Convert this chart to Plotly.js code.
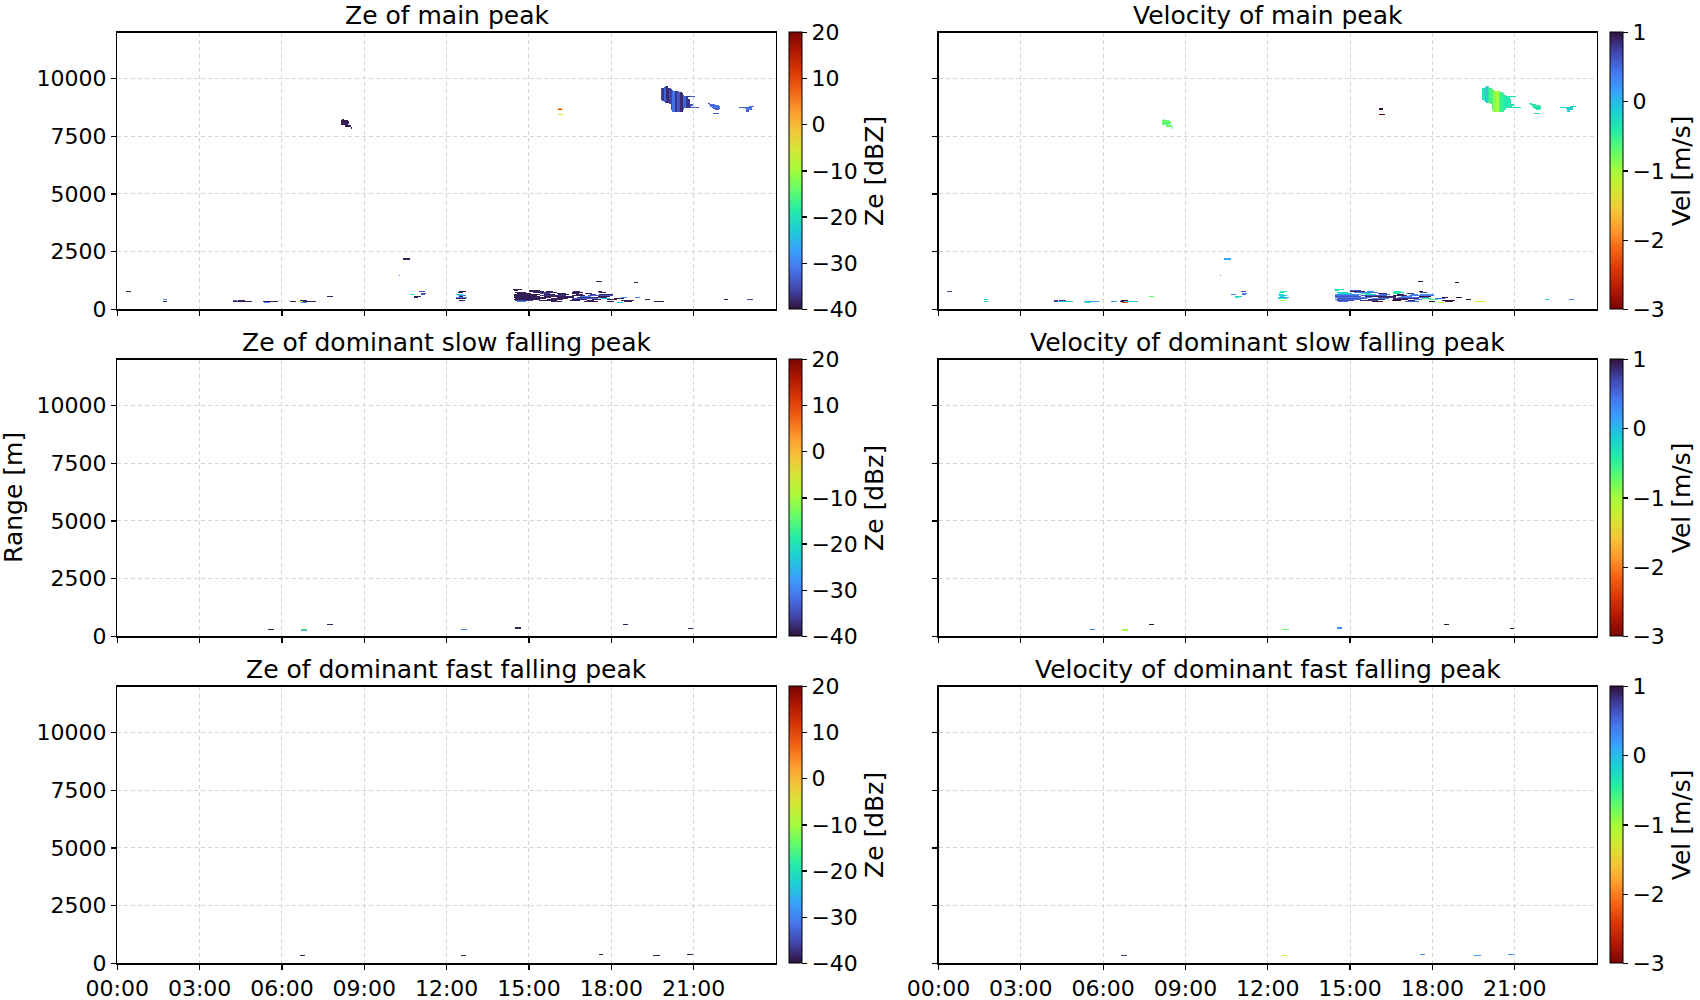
<!DOCTYPE html>
<html><head><meta charset="utf-8">
<script src="https://cdn.plot.ly/plotly-3.0.1.min.js"></script>
<style>html,body{margin:0;padding:0;background:#fff}#chart{width:1700px;height:1000px}</style>
</head><body><div id="chart"></div>
<script>
// ---------- tick labels ----------
const hourTicks = [0, 3, 6, 9, 12, 15, 18, 21];
const hourTickText = ['00:00', '03:00', '06:00', '09:00', '12:00', '15:00', '18:00', '21:00'];
const rangeTicks = [0, 2500, 5000, 7500, 10000];
const zeTicks = [-40, -30, -20, -10, 0, 10, 20];
const velTicks = [-3, -2, -1, 0, 1];

const panelTitles = ['Ze of main peak', 'Velocity of main peak',
  'Ze of dominant slow falling peak', 'Velocity of dominant slow falling peak',
  'Ze of dominant fast falling peak', 'Velocity of dominant fast falling peak'];
const zeLabels = ['Ze [dBZ]', 'Ze [dBz]', 'Ze [dBz]'];
const velLabel = 'Vel [m/s]';

// ---------- data: [start hour, end hour, range m, Ze dBZ, Vel m/s] ----------
const lowEchoes = [
  [0.32,0.50,765,-39,0.7],
  [1.64,1.81,405,-30,-0.1],[1.64,1.81,315,-39,-0.1],
  [4.18,4.35,360,-33,0.8],[4.41,4.66,360,-39,0.8],
  [4.18,4.35,315,-39,0.7],[4.35,4.91,315,-39,-0.1],
  [5.31,5.85,315,-39,0.1],[5.35,5.57,270,-30,-0.3],
  [6.30,6.48,315,-39,0.2],
  [6.62,6.74,315,-10,1.0],[6.66,6.90,360,-39,1.0],
  [6.72,6.90,270,-30,-2.3],[6.74,7.27,315,-39,-0.1],
  [7.65,7.83,540,-39,-0.7],
  [10.42,10.64,2160,-39,0.1],[10.42,10.64,2205,-39,0.1],
  [10.23,10.27,1440,-28,0.2],
  [10.64,10.83,630,-18,0.4],
  [10.78,11.03,540,-39,-0.2],[10.78,10.95,495,-39,-0.3],
  [11.00,11.20,765,-35,0.7],[11.05,11.25,675,-34,0.4],[11.05,11.22,630,-34,0.4]
];
const noonEchoes = [
  [12.45,12.72,765,-39,-0.4],[12.40,12.62,720,-39,-0.3],
  [12.35,12.60,630,-23,-0.3],[12.40,12.70,585,-30,-0.1],
  [12.45,12.62,540,-39,-0.3],[12.35,12.75,495,-30,0.1],
  [12.35,12.70,450,-39,-0.3],[12.45,12.65,360,-39,-1.1]
];
const afternoonEchoes = [
  [14.42,14.74,855,-39,-0.4],
  [14.45,14.62,810,-39,-0.4],[14.98,15.40,810,-39,0.6],
  [14.98,15.56,765,-39,0.9],[15.62,15.87,765,-39,0.3],[16.60,16.85,765,-39,-0.3],[17.50,17.67,765,-39,1.0],
  [14.50,14.92,720,-39,-0.3],[15.16,16.00,720,-38,0.4],[16.55,16.97,720,-39,-0.4],[17.55,17.80,720,-39,0.7],
  [14.55,15.04,675,-39,-0.2],[15.40,15.77,675,-36,-0.4],[16.00,16.36,675,-39,0.9],[16.55,16.78,675,-39,-0.4],[17.07,17.30,675,-39,0.8],
  [14.45,15.40,630,-39,0.2],[15.56,15.93,630,-39,-0.3],[16.05,16.43,630,-39,0.4],[16.72,16.97,630,-39,0.9],[17.20,17.45,630,-36,0.3],[17.55,18.05,630,-39,0.2],
  [14.45,15.30,585,-39,0.5],[15.40,16.36,585,-37,0.6],[16.55,17.03,585,-39,0.9],[17.15,18.05,585,-34,0.4],
  [14.47,15.41,540,-39,0.6],[15.53,16.63,540,-39,0.9],[16.87,17.23,540,-30,0.3],[17.48,17.96,540,-39,1.0],
  [14.45,15.78,495,-39,0.4],[16.02,16.63,495,-39,0.8],[16.75,17.84,495,-38,0.5],[18.33,18.57,495,-30,1.0],[18.85,19.06,495,-31,1.0],
  [14.50,15.59,450,-39,0.6],[15.78,16.38,450,-39,0.3],[16.56,17.48,450,-33,0.8],[17.60,17.96,450,-25,-0.5],[18.08,18.45,450,-39,0.5],
  [14.45,15.41,405,-39,0.5],[15.65,16.26,405,-39,0.9],[16.56,17.11,405,-39,1.0],[17.29,17.60,405,-39,0.4],[17.84,18.20,405,-39,-0.6],[19.21,19.42,405,-39,1.0],
  [14.50,15.17,360,-36,0.7],[15.35,16.02,360,-39,0.8],[16.50,16.87,360,-39,1.0],[17.11,17.35,360,-39,0.9],[18.33,18.81,360,-39,1.0],
  [14.56,14.92,315,-30,0.4],[15.78,16.20,315,-39,1.0],[16.99,17.48,315,-39,0.6],[17.84,18.08,315,-39,1.0],[18.45,18.75,315,-39,1.0],[19.55,19.88,315,-39,-1.3],
  [18.18,18.39,270,-24,-1.0],
  [17.45,17.64,1215,-39,1.0],[18.78,18.94,1170,-39,1.0],
  [22.10,22.26,405,-39,-0.1],[22.95,23.17,405,-35,0.3]
];
const upperEchoes = [
  [8.19,8.24,8235,-39,-0.6],[8.15,8.38,8190,-39,-0.7],[8.15,8.46,8145,-39,-0.8],
  [8.15,8.46,8100,-39,-0.7],[8.17,8.44,8055,-39,-0.6],[8.17,8.40,8010,-39,-0.7],
  [8.30,8.50,7965,-39,-0.8],[8.32,8.48,7920,-39,-0.7],[8.48,8.55,7875,-39,-0.6],[8.50,8.55,7830,-39,-0.7],
  [16.03,16.21,8685,3,1.2],[16.03,16.21,8640,8,1.2],[16.06,16.24,8460,-8,-3.0],
  [21.51,21.58,8910,-34,-0.4],[21.53,21.75,8865,-32,-0.4],[21.58,21.90,8820,-33,-0.5],
  [21.62,21.95,8775,-31,-0.4],[21.65,21.97,8730,-32,-0.3],[21.70,21.95,8685,-33,-0.4],
  [21.75,21.90,8640,-34,-0.4],[21.72,21.88,8505,-34,-0.3],
  [22.98,23.21,8775,-32,-0.2],[22.66,23.10,8730,-33,-0.2],[22.85,23.12,8685,-30,-0.1],
  [22.88,23.08,8640,-32,-0.2],[22.92,23.02,8595,-34,-0.2]
];
// evening cloud near 9 km: row extents [start hour, end hour, range m]
const cloudRows = [
  [19.94,20.03,9675],[19.92,20.05,9630],[19.78,20.17,9585],[19.78,20.20,9540],
  [19.78,20.25,9495],[19.78,20.45,9450],[19.78,20.55,9405],[19.78,20.60,9360],
  [19.80,20.62,9315],[19.80,20.65,9270],[19.80,21.06,9225],[19.80,20.80,9180],
  [19.82,20.82,9135],[19.82,20.84,9090],[19.85,20.84,9045],[19.90,20.84,9000],
  [19.95,20.84,8955],[20.12,20.84,8910],[20.14,20.95,8865],[20.14,20.95,8820],
  [20.15,20.90,8775],[20.15,21.18,8730],[20.15,20.65,8685],[20.17,20.64,8640],[20.20,20.60,8595]
];
// cloud column structure: boundaries (hours) and per-column values
const cloudColT = [19.7, 19.84, 19.92, 20.02, 20.10, 20.20, 20.28, 20.40, 20.50, 20.62, 20.72, 20.84, 21.3];
const cloudColZe = [-35, -37, -33, -38, -36, -32, -37, -34, -38, -33, -37, -34];
const cloudColVel = [-0.4, -0.3, -0.2, -0.5, -0.6, -0.9, -1.0, -0.6, -0.5, -0.4, -0.4, -0.3];

const slowEchoes = [
  [5.51,5.72,270,-39,0.3],
  [6.70,6.92,270,-15,-1.0],[6.70,6.92,225,-28,-1.0],
  [7.65,7.84,495,-39,1.2],
  [12.52,12.73,270,-30,-0.7],
  [14.50,14.69,360,-39,0.3],[14.50,14.69,315,-39,0.3],
  [18.38,18.60,495,-39,1.2],
  [20.78,20.97,315,-39,1.2]
];
const fastEchoes = [
  [6.64,6.84,315,-39,0.8],
  [12.52,12.70,315,-39,-1.2],
  [17.55,17.72,360,-39,0.2],
  [19.52,19.73,315,-39,0.2],
  [20.76,20.93,360,-39,0.2]
];

// ---------- colours ----------
const turbo = ['#30123b','#4145ab','#4675ed','#39a2fc','#1bcfd4','#24eca6','#61fc6c','#a4fc3b',
  '#d1e834','#f3c63a','#fe9b2d','#f36315','#d93806','#b11901','#7a0402'];
const turboScale = turbo.map((c, i) => [i / (turbo.length - 1), c]);
const turboRScale = turbo.slice().reverse().map((c, i) => [i / (turbo.length - 1), c]);

// ---------- grid ----------
const DT = 0.05, DR = 45, NT = 480, NR = 267;
const xCenters = Array.from({length: NT}, (_, i) => (i + 0.5) * DT);
const yCenters = Array.from({length: NR}, (_, j) => j * DR);

function cloudSegments() {
  const out = [];
  cloudRows.forEach(r => {
    for (let c = 0; c < cloudColZe.length; c++) {
      const a = Math.max(r[0], cloudColT[c]), b = Math.min(r[1], cloudColT[c + 1]);
      if (b > a) out.push([a, b, r[2], cloudColZe[c], cloudColVel[c]]);
    }
  });
  return out;
}
function buildGrid(segs, k) {
  const z = Array.from({length: NR}, () => new Array(NT).fill(null));
  segs.forEach(s => {
    const j = Math.round(s[2] / DR);
    let i0 = Math.round(s[0] / DT), i1 = Math.round(s[1] / DT);
    if (i1 <= i0) i1 = i0 + 1;
    for (let i = i0; i < i1 && i < NT; i++) z[j][i] = s[k];
  });
  return z;
}
const mainSegs = [].concat(lowEchoes, noonEchoes, afternoonEchoes, upperEchoes, cloudSegments());
const products = [mainSegs, slowEchoes, fastEchoes];

// ---------- layout geometry ----------
const W = 1700, H = 1000;
const colX = [[117.3 / W, 776 / W], [938.5 / W, 1597 / W]];
const rowTop = [32.5, 359.5, 686.5], rowH = 276.8;
const rowY = rowTop.map(t => [1 - (t + rowH) / H, 1 - t / H]);
const cbX = [789 / W, 1610 / W];

const FONT = 'DejaVu Sans';
const traces = [];
const layout = {
  width: W, height: H, margin: {l: 0, r: 0, t: 0, b: 0},
  paper_bgcolor: '#fff', plot_bgcolor: '#fff', showlegend: false,
  font: {family: FONT, color: '#000', size: 22},
  annotations: []
};

for (let r = 0; r < 3; r++) {
  for (let c = 0; c < 2; c++) {
    const n = r * 2 + c + 1;
    const xa = n === 1 ? 'xaxis' : 'xaxis' + n, ya = n === 1 ? 'yaxis' : 'yaxis' + n;
    const xr = n === 1 ? 'x' : 'x' + n, yr = n === 1 ? 'y' : 'y' + n;
    const common = {
      showline: true, linecolor: '#000', linewidth: 1.3, mirror: true,
      ticks: 'outside', ticklen: 5, tickwidth: 1.2, tickcolor: '#000',
      showgrid: true, gridcolor: '#d6d6d6', gridwidth: 1, griddash: '4px,3px',
      zeroline: false, tickfont: {family: FONT, size: 22, color: '#000'}, fixedrange: true
    };
    layout[xa] = Object.assign({}, common, {
      domain: colX[c], range: [0, 24], anchor: yr,
      tickmode: 'array', tickvals: hourTicks, ticktext: hourTickText,
      showticklabels: r === 2
    });
    layout[ya] = Object.assign({}, common, {
      domain: rowY[r], range: [0, 12000], anchor: xr,
      tickmode: 'array', tickvals: rangeTicks, ticktext: rangeTicks.map(String),
      showticklabels: c === 0
    });
    const isZe = c === 0;
    traces.push({
      type: 'heatmap', x: xCenters, y: yCenters,
      z: buildGrid(products[r], isZe ? 3 : 4),
      xaxis: xr, yaxis: yr, zsmooth: false, hoverinfo: 'skip',
      colorscale: isZe ? turboScale : turboRScale,
      zmin: isZe ? -40 : -3, zmax: isZe ? 20 : 1,
      colorbar: {
        x: cbX[c], xanchor: 'left', xpad: 0, y: (rowY[r][0] + rowY[r][1]) / 2, yanchor: 'middle',
        ypad: 0, len: rowH / H, lenmode: 'fraction', thickness: 13, thicknessmode: 'pixels',
        outlinewidth: 1, outlinecolor: '#000', ticks: 'outside', ticklen: 5, tickwidth: 1.2,
        tickcolor: '#000', tickmode: 'array', tickvals: isZe ? zeTicks : velTicks,
        tickfont: {family: FONT, size: 22, color: '#000'},
        title: {text: isZe ? zeLabels[r] : velLabel, side: 'right', font: {family: FONT, size: 25, color: '#000'}}
      }
    });
    layout.annotations.push({
      xref: 'paper', yref: 'paper', x: (colX[c][0] + colX[c][1]) / 2,
      y: 1 - (rowTop[r] - 17) / H,
      xanchor: 'center', yanchor: 'middle', showarrow: false, borderpad: 0,
      text: panelTitles[n - 1], font: {family: FONT, size: 25, color: '#000'}
    });
  }
}
layout.annotations.push({
  xref: 'paper', yref: 'paper', x: 14 / W, y: (rowY[1][0] + rowY[1][1]) / 2,
  xanchor: 'center', yanchor: 'middle', textangle: -90, showarrow: false,
  text: 'Range [m]', font: {family: FONT, size: 25, color: '#000'}
});

Plotly.newPlot('chart', traces, layout, {displayModeBar: false, staticPlot: true});
</script></body></html>
